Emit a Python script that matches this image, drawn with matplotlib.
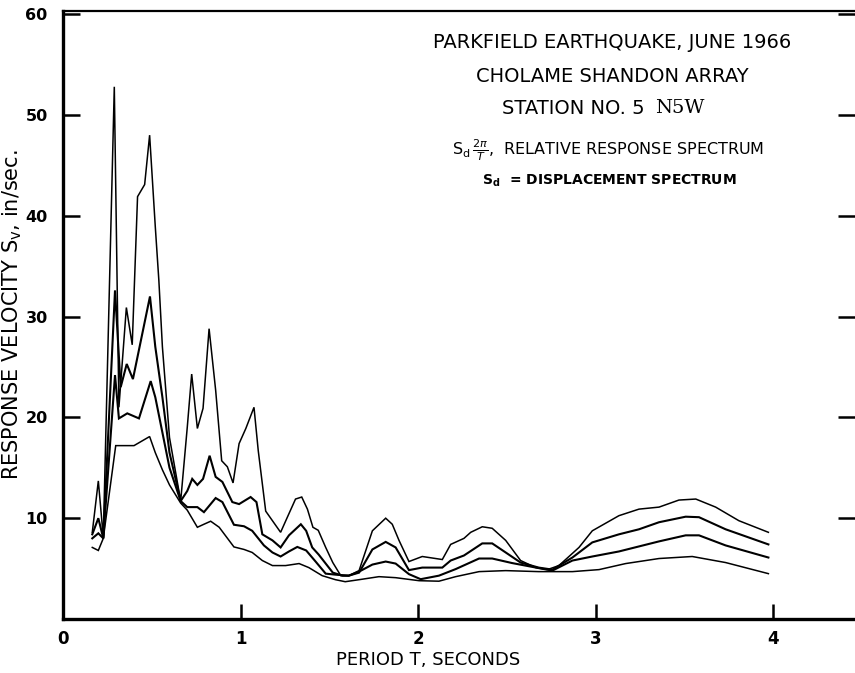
import matplotlib
matplotlib.use("Agg")
import matplotlib.pyplot as plt

# ---- data ----
T_a = [0.165, 0.199, 0.227, 0.289, 0.315, 0.357, 0.39, 0.42, 0.46, 0.488, 0.52, 0.54, 0.56, 0.6,
       0.663, 0.70, 0.725, 0.757, 0.789, 0.823, 0.86, 0.894, 0.926, 0.958, 0.992, 1.03, 1.076, 1.10,
       1.142, 1.18, 1.226, 1.264, 1.31, 1.345, 1.377, 1.408, 1.438, 1.48, 1.52, 1.565, 1.61, 1.668,
       1.743, 1.818, 1.855, 1.893, 1.949, 2.024, 2.137, 2.184, 2.259, 2.297, 2.362, 2.418, 2.494,
       2.578, 2.663, 2.729, 2.794, 2.907, 2.982, 3.132, 3.245, 3.358, 3.47, 3.565, 3.677, 3.808, 3.974]
V_a = [8.6, 13.7, 8.1, 52.8, 21.0, 30.9, 27.2, 41.9, 43.1, 48.0, 38.9, 33.6, 27.0, 18.0,
       11.7, 19.0, 24.3, 18.9, 20.9, 28.8, 22.7, 15.7, 15.1, 13.5, 17.4, 18.9, 21.0, 16.7,
       10.7, 9.75, 8.6, 10.1, 11.9, 12.1, 10.9, 9.1, 8.8, 7.1, 5.6, 4.3, 4.3, 4.8,
       8.75, 10.0, 9.4, 7.8, 5.7, 6.2, 5.9, 7.4, 8.0, 8.6, 9.15, 9.0, 7.8,
       5.8, 5.1, 4.9, 5.3, 7.1, 8.75, 10.25, 10.9, 11.1, 11.8, 11.9, 11.1, 9.75, 8.6]

T_b = [0.165, 0.199, 0.227, 0.293, 0.325, 0.359, 0.394, 0.49, 0.52, 0.56, 0.6, 0.663, 0.70, 0.728,
       0.757, 0.789, 0.826, 0.86, 0.898, 0.954, 0.992, 1.057, 1.09, 1.123, 1.18, 1.226, 1.273, 1.34,
       1.37, 1.404, 1.44, 1.48, 1.52, 1.575, 1.61, 1.668, 1.743, 1.818, 1.874, 1.949, 2.024, 2.137,
       2.184, 2.259, 2.362, 2.418, 2.494, 2.578, 2.68, 2.757, 2.87, 2.982, 3.132, 3.245, 3.358,
       3.508, 3.583, 3.733, 3.974]
V_b = [8.4, 10.0, 8.0, 32.6, 23.0, 25.3, 23.8, 32.0, 27.0, 22.0, 16.5, 11.7, 12.7, 13.9,
       13.3, 13.9, 16.2, 14.1, 13.6, 11.6, 11.4, 12.1, 11.6, 8.4, 7.8, 7.1, 8.3, 9.4,
       8.75, 7.1, 6.4, 5.5, 4.6, 4.3, 4.3, 4.6, 6.9, 7.65, 7.1, 4.85, 5.1, 5.1,
       5.8, 6.3, 7.5, 7.5, 6.6, 5.6, 5.1, 4.9, 6.1, 7.6, 8.4, 8.9, 9.6,
       10.15, 10.1, 8.9, 7.4]

T_c = [0.165, 0.199, 0.227, 0.293, 0.315, 0.362, 0.428, 0.494, 0.52, 0.56, 0.6, 0.663, 0.70,
       0.757, 0.794, 0.86, 0.898, 0.963, 1.02, 1.066, 1.132, 1.18, 1.226, 1.273, 1.32, 1.37,
       1.423, 1.48, 1.535, 1.61, 1.668, 1.743, 1.818, 1.874, 1.949, 2.015, 2.118, 2.212, 2.344,
       2.418, 2.53, 2.68, 2.757, 2.87, 2.982, 3.132, 3.245, 3.358, 3.508, 3.583, 3.733, 3.974]
V_c = [8.0, 8.5, 8.0, 24.2, 19.9, 20.4, 19.9, 23.6, 22.0, 18.5, 15.0, 11.7, 11.1,
       11.1, 10.6, 12.0, 11.6, 9.35, 9.2, 8.75, 7.3, 6.6, 6.2, 6.7, 7.15, 6.8,
       5.7, 4.5, 4.4, 4.3, 4.7, 5.4, 5.7, 5.5, 4.45, 3.95, 4.3, 4.95, 6.0,
       6.0, 5.55, 5.05, 4.8, 5.8, 6.2, 6.7, 7.2, 7.7, 8.3, 8.3, 7.3, 6.1]

T_d = [0.165, 0.199, 0.227, 0.297, 0.40, 0.488, 0.52, 0.56, 0.6, 0.663, 0.70, 0.757, 0.794,
       0.832, 0.88, 0.963, 1.02, 1.066, 1.123, 1.18, 1.254, 1.33, 1.385, 1.46, 1.535, 1.59,
       1.668, 1.78, 1.874, 2.006, 2.118, 2.212, 2.344, 2.494, 2.68, 2.87, 3.02, 3.17, 3.358,
       3.545, 3.733, 3.974]
V_d = [7.1, 6.8, 8.0, 17.2, 17.2, 18.1, 16.5, 14.8, 13.3, 11.5, 10.8, 9.1, 9.4,
       9.7, 9.1, 7.15, 6.9, 6.6, 5.8, 5.3, 5.3, 5.5, 5.1, 4.3, 3.9, 3.7,
       3.9, 4.2, 4.1, 3.8, 3.75, 4.2, 4.7, 4.8, 4.7, 4.7, 4.9, 5.5, 6.0,
       6.2, 5.6, 4.5]

x_ticks = [0, 1, 2, 3, 4]
y_ticks = [10, 20, 30, 40, 50, 60]
title_lines = ["PARKFIELD EARTHQUAKE, JUNE 1966", "CHOLAME SHANDON ARRAY"]

# ---- figure ----
fig = plt.figure(figsize=(8.55, 6.73), dpi=100)
W, H = 855.0, 673.0
x0, x1, ytop, ybot = 63.0, 855.0, 11.0, 619.0
ax = fig.add_axes([x0 / W, 1 - ybot / H, (x1 - x0) / W, (ybot - ytop) / H])
ax.set_xlim(0, (x1 - x0) / 177.5)
ax.set_ylim(0, (ybot - ytop) / 10.08)

for T, V, lw in [(T_a, V_a, 1.1), (T_b, V_b, 1.5), (T_c, V_c, 1.5), (T_d, V_d, 1.1)]:
    ax.plot(T, V, color="black", lw=lw, solid_joinstyle="miter")

for s in ["left", "bottom"]:
    ax.spines[s].set_linewidth(2.4)
ax.spines["top"].set_linewidth(1.6)
ax.spines["right"].set_visible(False)

ax.set_xticks(x_ticks)
ax.set_xticklabels([str(v) for v in x_ticks])
ax.set_yticks(y_ticks)
ax.set_yticklabels([str(v) for v in y_ticks])
ax.tick_params(axis="y", direction="in", length=12, width=1.8, pad=11, labelsize=11.5,
               right=True, left=True)
ax.tick_params(axis="x", direction="in", length=11, width=1.8, pad=8, labelsize=12)
for lab in ax.get_xticklabels() + ax.get_yticklabels():
    lab.set_fontweight("bold")

fs = 14
xc = 612 / W
fig.text(xc, 1 - 43 / H, title_lines[0], ha="center", va="center", fontsize=fs)
fig.text(xc, 1 - 76 / H, title_lines[1], ha="center", va="center", fontsize=fs)
fig.text(645 / W, 1 - 108 / H, "STATION NO. 5", ha="right", va="center", fontsize=fs)
fig.text(655 / W, 1 - 108 / H, "N5W", ha="left", va="center", fontsize=fs,
         family="DejaVu Serif")
fig.text(608 / W, 1 - 150 / H, r"S$_\mathregular{d}\,\frac{2\pi}{T}$,  RELATIVE RESPONSE SPECTRUM",
         ha="center", va="center", fontsize=11.5)
fig.text(609 / W, 1 - 181 / H, r"S$_\mathregular{d}$  = DISPLACEMENT SPECTRUM",
         ha="center", va="center", fontsize=10, fontweight="bold")

fig.text(12 / W, 1 - 315 / H, r"RESPONSE VELOCITY S$_\mathregular{v}$, in/sec.",
         rotation=90, ha="center", va="center", fontsize=15)
fig.text(428 / W, 1 - 660 / H, "PERIOD T, SECONDS", ha="center", va="center", fontsize=13)

fig.savefig("out.png", dpi=100)
